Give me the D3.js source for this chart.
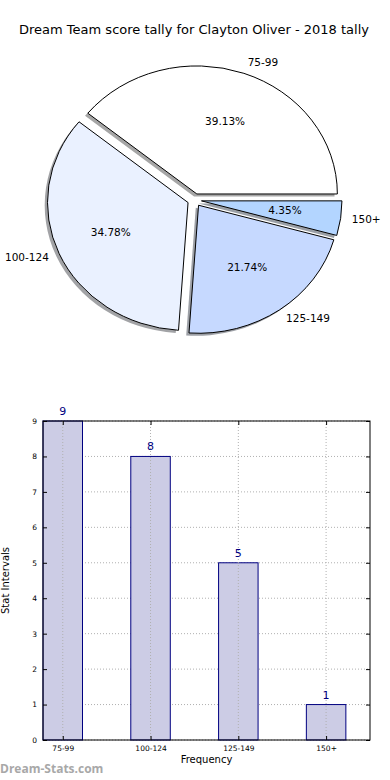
<!DOCTYPE html>
<html><head><meta charset="utf-8">
<script src="https://cdn.jsdelivr.net/npm/d3@7"></script>
<style>body{margin:0;background:#fff}svg{display:block;font-family:"DejaVu Sans",sans-serif}</style>
</head><body>
<svg id="c" width="390" height="780"></svg>
<script>
const title = "Dream Team score tally for Clayton Oliver - 2018 tally";
const categories = ["75-99", "100-124", "125-149", "150+"];
const counts = [9, 8, 5, 1];
const sliceColors = ["#ffffff", "#eaf1ff", "#c6d9ff", "#b3d5ff"];
const yTicks = [0,1,2,3,4,5,6,7,8,9];
const xLabel = "Frequency";
const yLabel = "Stat Intervals";
const watermark = "Dream-Stats.com";

const svg = d3.select("#c");

svg.append("text").attr("x", 194).attr("y", 30).attr("text-anchor","middle")
  .attr("dominant-baseline","middle").style("font-size","13px").attr("fill","#000").text(title);

// ---------- Pie ----------
const cx = 194.5, cy = 200, rx = 140.5, ry = 128, explode = 0.05;
const total = d3.sum(counts);
// matplotlib: start at 3 o'clock, counterclockwise
const pie = d3.pie().sort(null).value(d => d).startAngle(Math.PI/2).endAngle(Math.PI/2 - 2*Math.PI);
const arcsData = pie(counts);
const arc = d3.arc().innerRadius(0).outerRadius(1);
const pieG = svg.append("g");

arcsData.forEach((d, i) => {
  const mid = (d.startAngle + d.endAngle) / 2;
  const ux = Math.sin(mid), uy = -Math.cos(mid);
  const ox = cx + explode * rx * ux, oy = cy + explode * ry * uy;
  const c = d3.rgb(sliceColors[i]);
  const sc = d3.rgb(c.r*0.3, c.g*0.3, c.b*0.3);
  pieG.append("path")
    .attr("d", arc(d))
    .attr("transform", `translate(${ox-2.8},${oy+2.6}) scale(${rx},${ry})`)
    .attr("fill", sc.toString()).attr("fill-opacity", 0.5)
    .attr("stroke","none");
  d.ox = ox; d.oy = oy; d.ux = ux; d.uy = uy;
});
arcsData.forEach((d, i) => {
  pieG.append("path")
    .attr("d", arc(d))
    .attr("transform", `translate(${d.ox},${d.oy}) scale(${rx},${ry})`)
    .attr("fill", sliceColors[i]).attr("stroke","#000")
    .attr("stroke-width", 1).attr("vector-effect","non-scaling-stroke")
    .attr("stroke-linejoin","round");
});
arcsData.forEach((d, i) => {
  const lx = cx + rx * 1.13 * d.ux, ly = cy + ry * 1.14 * d.uy;
  pieG.append("text").attr("x", lx).attr("y", ly)
    .attr("text-anchor", d.ux > 0 ? "start" : "end")
    .attr("dominant-baseline","middle").style("font-size","10.5px").text(categories[i]);
  const px = cx + rx * (explode + 0.6) * d.ux, py = cy + ry * (explode + 0.6) * d.uy;
  pieG.append("text").attr("x", px).attr("y", py)
    .attr("text-anchor","middle").attr("dominant-baseline","middle")
    .style("font-size","10.5px").text((counts[i]/total*100).toFixed(2) + "%");
});

// ---------- Bars ----------
const L = 43, R = 370, T = 421, B = 740;
const barW = 0.45;
const x = d3.scaleLinear().domain([-barW/2, 3.5]).range([L, R]);
const y = d3.scaleLinear().domain([0, 9]).range([B, T]);
const g = svg.append("g");

g.selectAll(".gy").data(yTicks).join("line")
  .attr("x1", L).attr("x2", R).attr("y1", d => y(d)).attr("y2", d => y(d))
  .attr("stroke","#b0b0b0").attr("stroke-width",1).attr("stroke-dasharray","1,2");

g.selectAll(".bar").data(counts).join("rect")
  .attr("x", (d,i) => x(i - barW/2)).attr("width", x(barW) - x(0))
  .attr("y", d => y(d)).attr("height", d => B - y(d))
  .attr("fill","#ccccE5").attr("stroke","#000080").attr("stroke-width",1);

g.selectAll(".gx").data(categories).join("line")
  .attr("x1", (d,i) => x(i)).attr("x2", (d,i) => x(i)).attr("y1", T).attr("y2", B)
  .attr("stroke","#b0b0b0").attr("stroke-width",1).attr("stroke-dasharray","1,2");

g.selectAll(".vl").data(counts).join("text")
  .attr("x", (d,i) => x(i)).attr("y", d => y(d) - 9)
  .attr("text-anchor","middle").attr("dominant-baseline","middle")
  .attr("fill","#000080").style("font-size","11px").text(d => d);

const yAxL = d3.axisLeft(y).tickValues(yTicks).tickSizeInner(-4).tickSizeOuter(0).tickPadding(6);
const yAxR = d3.axisRight(y).tickValues(yTicks).tickSizeInner(-4).tickSizeOuter(0).tickFormat("");
const xAxB = d3.axisBottom(x).tickValues([0,1,2,3]).tickFormat((d) => categories[d]).tickSizeInner(-4).tickSizeOuter(0).tickPadding(6);
const xAxT = d3.axisTop(x).tickValues([0,1,2,3]).tickSizeInner(-4).tickSizeOuter(0).tickFormat("");
[ [yAxL, `translate(${L},0)`], [yAxR, `translate(${R},0)`], [xAxB, `translate(0,${B})`], [xAxT, `translate(0,${T})`] ]
  .forEach(([ax, tr]) => {
    const a = g.append("g").attr("transform", tr).call(ax);
    a.select(".domain").remove();
    a.selectAll("line").attr("stroke","#000");
    a.selectAll("text").style("font-size","7.5px").attr("fill","#000").style("font-family","DejaVu Sans, sans-serif");
  });
g.append("rect").attr("x", L).attr("y", T).attr("width", R-L).attr("height", B-T)
  .attr("fill","none").attr("stroke","#000").attr("stroke-width",1);

svg.append("text").attr("x", (L+R)/2).attr("y", 760).attr("text-anchor","middle")
  .attr("dominant-baseline","middle").style("font-size","10px").text(xLabel);
svg.append("text").attr("transform", `translate(5.5,${(T+B)/2}) rotate(-90)`)
  .attr("text-anchor","middle").attr("dominant-baseline","middle").style("font-size","10px").text(yLabel);

svg.append("text").attr("x", 0).attr("y", 770).attr("dominant-baseline","middle")
  .style("font-size","12px").style("font-weight","bold").style("font-family","'Open Sans', sans-serif")
  .attr("fill","#a8a8a8").text(watermark);
</script>
</body></html>
